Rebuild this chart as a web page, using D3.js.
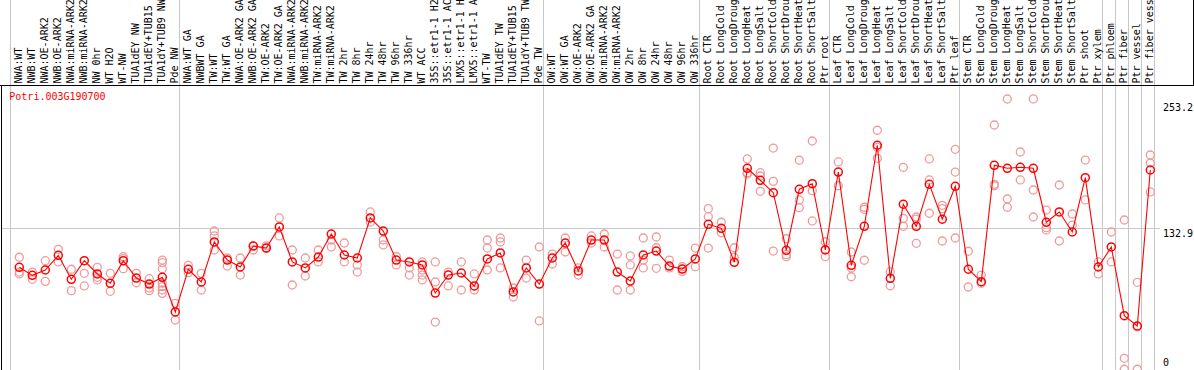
<!DOCTYPE html>
<html><head><meta charset="utf-8">
<script src="https://cdn.jsdelivr.net/npm/d3@7"></script>
<style>
body{margin:0;background:#fff;overflow:hidden}
svg{display:block}
text{font-family:"DejaVu Sans Mono","Liberation Mono",monospace;font-size:10px}
</style>
</head><body>
<svg id="chart" width="1194" height="370"></svg>
<script>
const geneId = "Potri.003G190700";

const categories = [
"NWA:WT","NWB:WT","NWA:OE-ARK2","NWB:OE-ARK2","NWA:miRNA-ARK2","NWB:miRNA-ARK2","NW 0hr","WT H2O","WT-NW","TUA1dEY NW","TUA1dEY+TUB15 NW","TUA1dY+TUB9 NW","Pde NW",
"NWA:WT GA","NWBWT GA","TW:WT","TW:WT GA","NWA:OE-ARK2 GA","NWB:OE-ARK2 GA","TW:OE-ARK2","TW:OE-ARK2 GA","NWA:miRNA-ARK2 GA","NWB:miRNA-ARK2 GA","TW:miRNA-ARK2","TW:miRNA-ARK2 GA","TW 2hr","TW 8hr","TW 24hr","TW 48hr","TW 96hr","TW 336hr","WT ACC","35S::etr1-1 H2O","35S::etr1-1 ACC","LMX5::etr1-1 H2O","LMX5::etr1-1 ACC","WT-TW","TUA1dEY TW","TUA1dEY+TUB15 TW","TUA1dY+TUB9 TW","Pde TW",
"OW:WT","OW:WT GA","OW:OE-ARK2","OW:OE-ARK2 GA","OW:miRNA-ARK2","OW:miRNA-ARK2 GA","OW 2hr","OW 8hr","OW 24hr","OW 48hr","OW 96hr","OW 336hr",
"Root CTR","Root LongCold","Root LongDrought","Root LongHeat","Root LongSalt","Root ShortCold","Root ShortDrought","Root ShortHeat","Root ShortSalt","Ptr root",
"Leaf CTR","Leaf LongCold","Leaf LongDrought","Leaf LongHeat","Leaf LongSalt","Leaf ShortCold","Leaf ShortDrought","Leaf ShortHeat","Leaf ShortSalt","Ptr leaf",
"Stem CTR","Stem LongCold","Stem LongDrought","Stem LongHeat","Stem LongSalt","Stem ShortCold","Stem ShortDrought","Stem ShortHeat","Stem ShortSalt","Ptr shoot","Ptr xylem",
"Ptr phloem","Ptr fiber","Ptr vessel","Ptr fiber vessel"
];

const meanValues = [
95.9,88.4,93.4,107.1,84.7,102.1,89.7,81.0,102.1,85.9,80.3,86.6,54.2,
94.1,82.2,119.6,102.7,96.2,115.8,113.9,133.6,100.9,95.3,105.5,127.0,107.4,104.6,142.0,129.8,102.7,100.9,98.1,71.9,88.7,90.6,78.5,103.7,109.3,72.9,95.3,80.3,
104.6,118.6,92.5,121.4,121.4,91.5,83.1,107.4,111.1,97.1,94.3,103.7,
136.1,132.3,100.6,188.4,177.2,165.6,111.8,168.8,174.0,112.1,
184.9,97.8,134.2,209.9,85.6,154.8,134.2,173.4,140.8,171.6,
94.1,82.5,191.2,188.4,189.3,188.4,138.0,147.6,128.9,179.6,96.2,
114.9,50.7,41.1,186.8
];

const replicateValues = [
[105.3,91.5,89.7],[91.5,84.7],[102.1,82.8],[112.7,100.9],[94.1,74.1],[90.3,78.5],[95.9,86.6,84.1],[90.3,73.5],[105.8,104.0,94.6],[90.3,81.5],[85.3,76.6,74.1],[102.7,100.2,94.6,81.0,77.8,74.7,71.6],[62.3,46.7],
[97.8,90.9],[90.3,74.7],[129.8,125.2,112.1],[104.6,97.1],[104.6,88.7],[115.8,112.1],[113.9,116.0],[142.0,125.2],[112.1,79.4],[104.6,87.8],[112.1,100.9],[121.4,114.9],[118.6,100.9],[98.1,91.5],[147.6,138.2],[121.4,116.8],[98.1,106.0],[95.3,88.7],[100.9,93.4,88.7,84.1],[100.9,82.2,44.8],[91.5,78.5],[100.9,74.7],[89.7,74.7],[121.4,113.9,93.4],[123.3,119.6,95.3],[76.6,68.2],[102.7,85.9],[114.9,45.8],
[108.3,99.0],[123.3,110.2],[95.3,88.7],[125.2,118.6],[127.0,114.9],[108.3,74.7],[106.5,98.1,74.7],[123.3,102.7,95.3],[124.2,114.2,95.0],[102.7,95.3],[96.5,92.0],[113.9,96.5],
[150.7,143.2,113.9],[138.0,128.2],[114.2,105.3],[197.1,184.3,183.1],[184.3,181.2,166.9],[207.3,176.2,111.1],[122.6,107.7,105.8],[195.9,158.8,151.6],[213.9,167.5,139.2],[119.8,105.8],
[194.3,172.1],[110.2,95.3,87.1],[152.0,150.1,102.5],[223.9,208.0,197.7],[91.8,78.7],[189.3,141.7,134.2],[142.9,141.0,118.3],[197.1,177.5,146.4],[153.8,150.7,120.5],[206.1,184.9,123.3],
[110.9,77.5],[88.7,81.0],[228.8,173.4,172.1],[253.1,159.7,152.0],[203.6,177.5],[253.2,168.1,142.9],[149.4,132.9,130.8],[172.8,120.5],[145.7,135.4],[196.1,158.8],[100.9,89.7],
[128.9,100.9],[140.1,10.9,0.7],[81.9,40.2,0.7],[200.8,193.3,166.3]
];

const groupStarts = [0,13,41,53,63,73,84,85,86,87,88];
const yTickValues = [0,132.9,253.2];
const gridValues = [132.9];

const W = 1194, H = 370;
const svg = d3.select("#chart");

const x = d3.scaleBand().domain(d3.range(categories.length)).range([10.5, 10.5 + 13*categories.length]).paddingInner(0).paddingOuter(0);
const cx = i => x(i) + 8.8;
const y = d3.scaleLinear().domain([0,253.2]).range([370, 98.9]);

// vertical group separators (full height)
svg.append("g").selectAll("line").data(groupStarts).join("line")
  .attr("x1", i => i < categories.length ? x(i) : x(categories.length-1)+x.bandwidth())
  .attr("x2", i => i < categories.length ? x(i) : x(categories.length-1)+x.bandwidth())
  .attr("y1", 0).attr("y2", H)
  .attr("stroke", "#c8c8c8").attr("stroke-width", 1);

// horizontal grid
svg.append("g").selectAll("line").data(gridValues).join("line")
  .attr("x1", 2).attr("x2", 1160)
  .attr("y1", d => Math.round(y(d))+0.5).attr("y2", d => Math.round(y(d))+0.5)
  .attr("stroke", "#c8c8c8").attr("stroke-width", 1);

// frame lines
svg.append("line").attr("x1",0).attr("x2",W).attr("y1",85.5).attr("y2",85.5).attr("stroke","#000");
svg.append("line").attr("x1",1.5).attr("x2",1.5).attr("y1",85).attr("y2",H).attr("stroke","#000");
svg.append("line").attr("x1",1193.5).attr("x2",1193.5).attr("y1",0).attr("y2",86).attr("stroke","#000");

// category labels
svg.append("g").selectAll("text").data(categories).join("text")
  .attr("transform", (d,i) => `translate(${cx(i)+2.8},83.5) rotate(-90)`)
  .attr("fill", "#000")
  .text(d => d);

// title
svg.append("text").attr("x", 9.3).attr("y", 100).attr("fill", "#ff0000").text(geneId);

// y axis (right)
const axis = d3.axisRight(y).tickValues(yTickValues).tickSize(0).tickPadding(0).tickFormat(d => d === 0 ? "0" : d3.format(".1f")(d));
const ag = svg.append("g").attr("transform", "translate(1163,0)").call(axis);
ag.select(".domain").remove();
ag.selectAll("text")
  .attr("font-family", '"DejaVu Sans Mono",monospace').attr("font-size", 10)
  .attr("fill", "#000")
  .attr("dy", null)
  .attr("y", d => d === 0 ? -4.7 : (d === 253.2 ? 11.2 : 8.5));

// replicate circles
const reps = [];
replicateValues.forEach((arr,i) => arr.forEach(v => reps.push({i, v})));
svg.append("g").selectAll("circle").data(reps).join("circle")
  .attr("cx", d => cx(d.i)).attr("cy", d => y(d.v)).attr("r", 4)
  .attr("fill", "none").attr("stroke", "#ef9a9a").attr("stroke-width", 1.3);

// mean line
svg.append("path").datum(meanValues)
  .attr("d", d3.line().x((d,i) => cx(i)).y(d => y(d)))
  .attr("fill", "none").attr("stroke", "#ff0000").attr("stroke-width", 1.1);

// mean markers
svg.append("g").selectAll("circle").data(meanValues).join("circle")
  .attr("cx", (d,i) => cx(i)).attr("cy", d => y(d)).attr("r", 4)
  .attr("fill", "none").attr("stroke", "#ff0000").attr("stroke-width", 1.5);
</script>
</body></html>
